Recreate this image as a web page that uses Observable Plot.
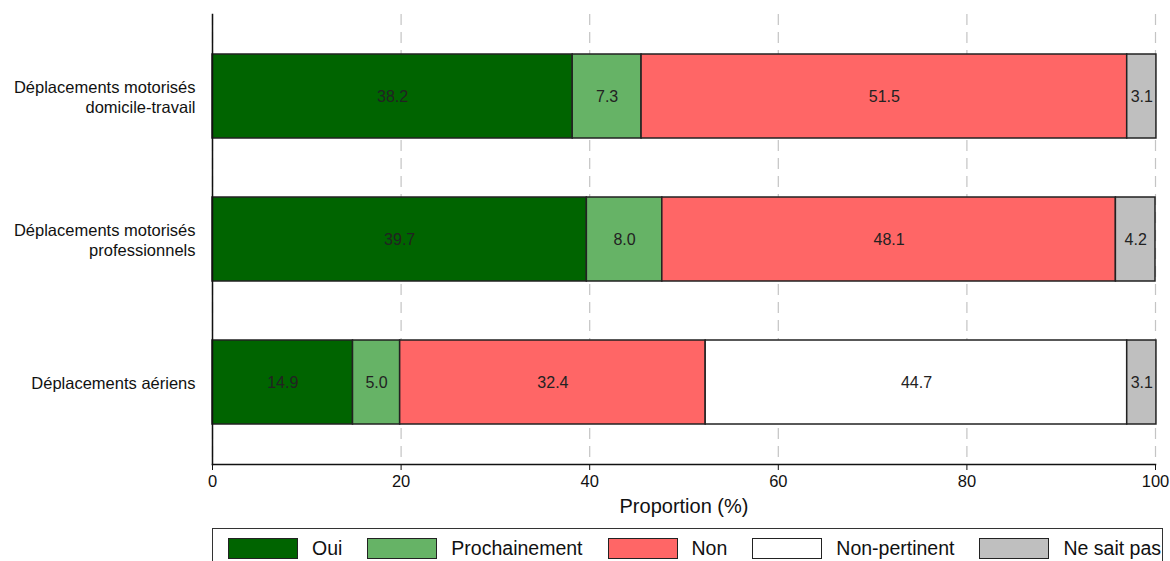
<!DOCTYPE html>
<html>
<head>
<meta charset="utf-8">
<script src="https://cdn.jsdelivr.net/npm/d3@7"></script>
<script src="https://cdn.jsdelivr.net/npm/@observablehq/plot@0.6"></script>
<style>
  html, body { margin: 0; padding: 0; background: #fff; }
  body { font-family: "Liberation Sans", Arial, sans-serif; width: 1170px; height: 561px; overflow: hidden; position: relative; }
  #chart { position: absolute; left: 0; top: 0; }
  g[aria-label="x-axis label"] text { font-size: 20px; }
  #legend { position: absolute; left: 212px; top: 528px; width: 949px; height: 38px; border: 1px solid #333; box-sizing: content-box;
            display: flex; align-items: center; padding-left: 0; font-size: 19.5px; color: #111; white-space: nowrap; overflow: hidden; }
  .item { display: flex; align-items: center; margin-left: 15px; margin-right: 10px; flex-shrink: 0; white-space: nowrap; }
  .sw { width: 68px; height: 19px; border: 1px solid #222; margin-right: 14px; flex-shrink: 0; }
</style>
</head>
<body>
<div id="chart"></div>
<div id="legend"></div>
<script>
const categories = ["Déplacements motorisés\ndomicile-travail", "Déplacements motorisés\nprofessionnels", "Déplacements aériens"];
const responses = ["Oui", "Prochainement", "Non", "Non-pertinent", "Ne sait pas"];
const colors = ["#006400", "#66b366", "#ff6666", "#ffffff", "#bfbfbf"];
const oui = [38.2, 39.7, 14.9];
const prochainement = [7.3, 8.0, 5.0];
const non = [51.5, 48.1, 32.4];
const nonPertinent = [0, 0, 44.7];
const nsp = [3.1, 4.2, 3.1];
const xTicks = [0, 20, 40, 60, 80, 100];

const series = [oui, prochainement, non, nonPertinent, nsp];
const data = [];
categories.forEach((c, i) => {
  series.forEach((s, j) => {
    if (s[i] > 0) data.push({cat: c, resp: responses[j], value: s[i]});
  });
});

const chart = Plot.plot({
  width: 1170,
  height: 520,
  marginLeft: 212,
  marginRight: 15,
  marginTop: 14,
  marginBottom: 56,
  style: {fontFamily: "Liberation Sans, Arial, sans-serif", fontSize: "16px", color: "#111"},
  x: {domain: [0, 100]},
  y: {domain: categories, paddingInner: 0.41, paddingOuter: 0.268},
  color: {domain: responses, range: colors},
  marks: [
    Plot.gridX(xTicks, {stroke: "#c4c4c4", strokeOpacity: 1, strokeWidth: 1.2, strokeDasharray: "11,7"}),
    Plot.barX(data, {x: "value", y: "cat", fill: "resp", stroke: "#222", strokeWidth: 1.5, order: null}),
    Plot.text(data, Plot.stackX({x: "value", y: "cat", text: d => d.value.toFixed(1), fill: "#222", fontSize: 16, order: null})),
    Plot.axisY({tickSize: 0, tickPadding: 17, fontSize: 16.5, lineHeight: 1.2, label: null}),
    Plot.axisX({ticks: xTicks, tickSize: 6, tickPadding: 5, fontSize: 16.5, label: "Proportion (%)", labelAnchor: "center", labelArrow: "none", labelOffset: 48}),
    Plot.frame({anchor: "left", stroke: "#111", strokeWidth: 1.5}),
    Plot.frame({anchor: "bottom", stroke: "#111", strokeWidth: 1.5})
  ]
});
document.getElementById("chart").appendChild(chart);

const legend = document.getElementById("legend");
responses.forEach((r, i) => {
  const item = document.createElement("div");
  item.className = "item";
  const sw = document.createElement("div");
  sw.className = "sw";
  sw.style.background = colors[i];
  const t = document.createElement("span");
  t.textContent = r;
  item.appendChild(sw);
  item.appendChild(t);
  legend.appendChild(item);
});
</script>
</body>
</html>
